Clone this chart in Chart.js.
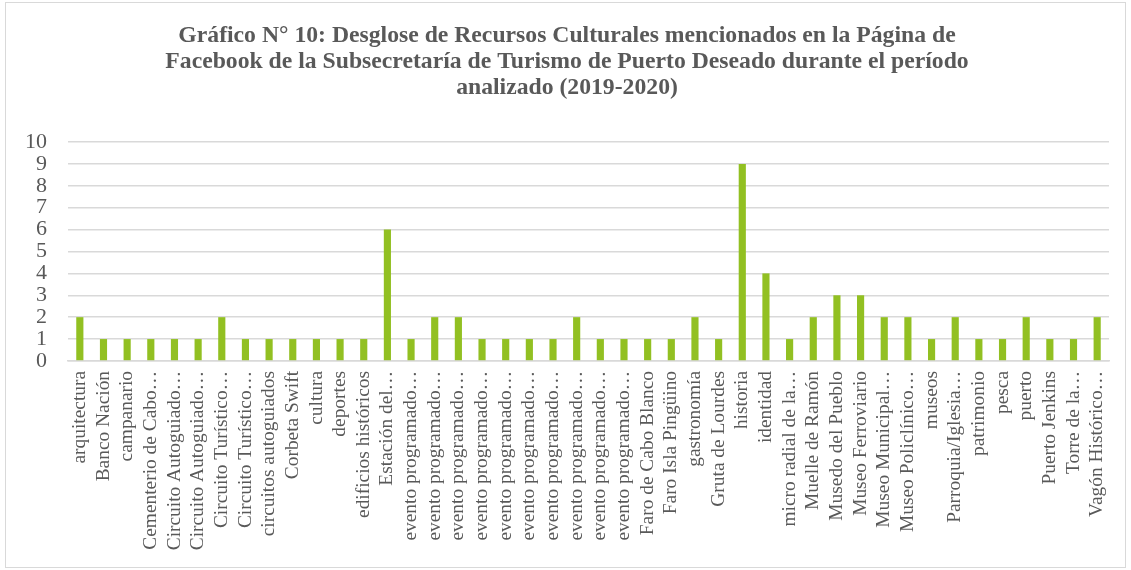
<!DOCTYPE html>
<html><head><meta charset="utf-8">
<script src="https://cdn.jsdelivr.net/npm/chart.js@4.4.1/dist/chart.umd.min.js"></script>
<style>html,body{margin:0;padding:0;background:#fff}canvas{display:block}</style>
</head><body>
<canvas id="c" width="1131" height="570"></canvas>
<script>
const titleLines = [
  "Gráfico N° 10: Desglose de Recursos Culturales mencionados en la Página de",
  "Facebook de la Subsecretaría de Turismo de Puerto Deseado durante el período",
  "analizado (2019-2020)"
];
const categories = [
  "arquitectura","Banco Nación","campanario","Cementerio de Cabo…","Circuito Autoguiado…",
  "Circuito Autoguiado…","Circuito Turístico…","Circuito Turístico…","circuitos autoguiados","Corbeta Swift",
  "cultura","deportes","edificios históricos","Estación del…","evento programado…",
  "evento programado…","evento programado…","evento programado…","evento programado…","evento programado…",
  "evento programado…","evento programado…","evento programado…","evento programado…","Faro de Cabo Blanco",
  "Faro Isla Pingüino","gastronomía","Gruta de Lourdes","historia","identidad",
  "micro radial de la…","Muelle de Ramón","Musedo del Pueblo","Museo Ferroviario","Museo Municipal…",
  "Museo Policlínico…","museos","Parroquia/Iglesia…","patrimonio","pesca",
  "puerto","Puerto Jenkins","Torre de la…","Vagón Histórico…"
];
const values = [
  2,1,1,1,1,
  1,2,1,1,1,
  1,1,1,6,1,
  2,2,1,1,1,
  1,2,1,1,1,
  1,2,1,9,4,
  1,2,3,3,2,
  2,1,2,1,1,
  2,1,1,2
];
const yTicks = [0,1,2,3,4,5,6,7,8,9,10];

const borderPlugin = {
  id: 'outerBorder',
  afterDraw(chart) {
    const ctx = chart.ctx;
    ctx.save();
    ctx.strokeStyle = '#d9d9d9';
    ctx.lineWidth = 1;
    ctx.strokeRect(5.5, 2.5, chart.width - 11, chart.height - 5);
    ctx.restore();
  }
};

new Chart(document.getElementById('c'), {
  type: 'bar',
  data: {
    labels: categories,
    datasets: [{
      data: values,
      backgroundColor: '#92c022',
      barPercentage: 0.55,
      categoryPercentage: 0.55
    }]
  },
  options: {
    responsive: false,
    animation: false,
    layout: { padding: { left: 25, right: 22, top: 0, bottom: 9.7 } },
    plugins: {
      legend: { display: false },
      tooltip: { enabled: false },
      title: {
        display: true,
        text: titleLines,
        color: '#595959',
        font: { family: 'Liberation Serif', size: 23.7, weight: 'bold', lineHeight: '26px' },
        padding: { top: 23, bottom: 41 }
      }
    },
    scales: {
      x: {
        afterFit(axis) { axis.paddingLeft = 0; axis.paddingRight = 0; },
        grid: { display: false, drawTicks: false },
        border: { display: true, color: '#d9d9d9', width: 1.5 },
        ticks: {
          autoSkip: false,
          minRotation: 90,
          maxRotation: 90,
          color: '#595959',
          padding: 10,
          font: { family: 'Liberation Serif', size: 19.4 }
        }
      },
      y: {
        min: 0, max: 10,
        afterBuildTicks(axis) { axis.ticks = yTicks.map(v => ({ value: v })); },
        afterFit(axis) { axis.width = 43; },
        grid: { color: '#d9d9d9', lineWidth: 1.5, drawTicks: false },
        border: { display: false },
        ticks: {
          autoSkip: false,
          color: '#595959',
          padding: 21,
          font: { family: 'Liberation Serif', size: 22 }
        }
      }
    }
  },
  plugins: [borderPlugin]
});
</script>
</body></html>
